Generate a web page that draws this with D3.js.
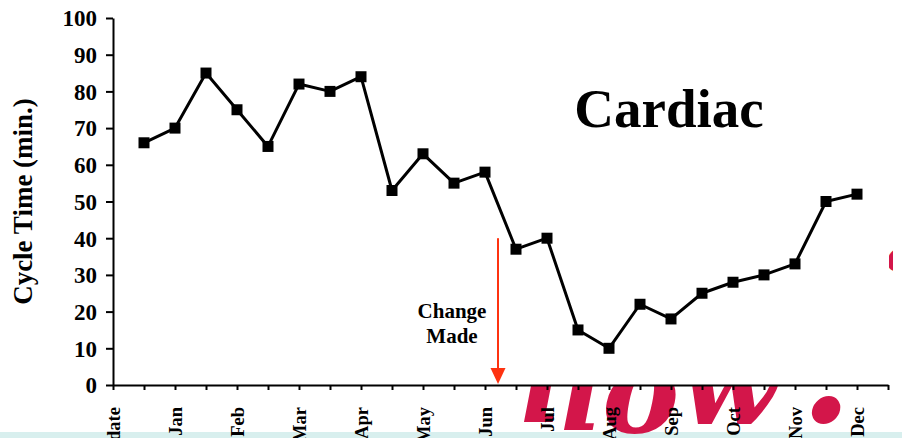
<!DOCTYPE html>
<html><head><meta charset="utf-8">
<script src="https://cdn.jsdelivr.net/npm/d3@7"></script>
<style>
html,body{margin:0;padding:0;background:#fff;overflow:hidden;}
svg{display:block;}
</style></head><body>
<script>
// Category slots along the x axis (a month label on every second slot)
const slots = ["date","","Jan","","Feb","","Mar","","Apr","","May","","Jun","","Jul","","Aug","","Sep","","Oct","","Nov","","Dec",""];
// Cycle time (minutes) per slot; the first and last slot carry no reading
const cycleTime = [null,66,70,85,75,65,82,80,84,53,63,55,58,37,40,15,10,22,18,25,28,30,33,50,52,null];
const yTicks = [0,10,20,30,40,50,60,70,80,90,100];
// Point in the timeline where the process change happened, and arrow start value
const changeSlot = 12.42;
const changeFrom = 40;
const chartTitle = "Cardiac";
const yTitle = "Cycle Time (min.)";
const noteLines = ["Change", "Made"];

const W = 902, H = 438;
const serif = "'Liberation Serif','Times New Roman',Times,serif";

const svg = d3.select("body").append("svg").attr("width", W).attr("height", H);

const x = d3.scaleLinear().domain([0, slots.length - 1]).range([113, 888]);
const y = d3.scaleLinear().domain([0, 100]).range([385, 18]);

// Pale band along the bottom of the slide
svg.append("rect").attr("x", 0).attr("y", 432).attr("width", W).attr("height", H - 432).attr("fill", "#d8efee");

// Slide artwork behind the chart: large crimson lettering
svg.append("defs").append("clipPath").attr("id", "edgeClip")
  .append("rect").attr("x", 886).attr("y", 200).attr("width", 7).attr("height", 100);
const deco = svg.append("g").attr("fill", "#d3164a")
  .style("font-family", "'DejaVu Serif',serif").style("font-weight", "bold").style("font-style", "italic");
deco.append("text").attr("font-size", 116)
  .selectAll("tspan").data([
    {c: "l", x: 520, y: 422},
    {c: "l", x: 560, y: 430},
    {c: "o", x: 602, y: 432},
    {c: "w", x: 680, y: 424},
  ]).join("tspan").attr("x", d => d.x).attr("y", d => d.y).text(d => d.c);
deco.append("text").attr("font-size", 150).attr("x", 800).attr("y", 422).text(".");
deco.append("text").attr("clip-path", "url(#edgeClip)").attr("font-size", 44)
  .attr("x", 886).attr("y", 271).text("o");

// White chart panel that hides the artwork above the axis
svg.append("rect").attr("x", 0).attr("y", 0).attr("width", 889).attr("height", y(0)).attr("fill", "#fff");

// Y axis
const yAxis = svg.append("g").attr("transform", `translate(${x(0)},0)`)
  .call(d3.axisLeft(y).tickValues(yTicks).tickSize(7).tickSizeOuter(0).tickPadding(9));
yAxis.selectAll("text").style("font-family", serif).style("font-weight", "bold")
  .style("font-size", "23px").attr("fill", "#000").attr("dy", "0.34em");

// X axis
const xAxis = svg.append("g").attr("transform", `translate(0,${y(0)})`)
  .call(d3.axisBottom(x).tickValues(d3.range(slots.length)).tickFormat(i => slots[i])
    .tickSize(5).tickSizeOuter(0));
xAxis.selectAll("text")
  .style("font-family", serif).style("font-weight", "bold").style("font-size", "18.5px")
  .attr("fill", "#000")
  .attr("transform", "rotate(-90)")
  .attr("text-anchor", "end")
  .attr("x", -22).attr("y", 0).attr("dy", "0.35em");

svg.selectAll(".domain, .tick line").attr("stroke", "#000").attr("stroke-width", 2);

// Y axis title
svg.append("text")
  .attr("transform", `translate(32,${(y(0) + y(100)) / 2}) rotate(-90)`)
  .attr("text-anchor", "middle")
  .style("font-family", serif).style("font-weight", "bold").style("font-size", "27px")
  .text(yTitle);

// Series line and square markers
const pts = cycleTime.map((v, i) => ({i, v})).filter(d => d.v !== null);
svg.append("path").datum(pts)
  .attr("fill", "none").attr("stroke", "#000").attr("stroke-width", 3).attr("stroke-linejoin", "round")
  .attr("d", d3.line().x(d => x(d.i)).y(d => y(d.v)));
svg.append("g").selectAll("path").data(pts).join("path")
  .attr("transform", d => `translate(${x(d.i)},${y(d.v)})`)
  .attr("d", d3.symbol(d3.symbolSquare, 121))
  .attr("fill", "#000");

// Chart title
svg.append("text").attr("x", 669).attr("y", 127).attr("text-anchor", "middle")
  .style("font-family", serif).style("font-weight", "bold").style("font-size", "55px")
  .text(chartTitle);

// Change annotation with arrow
const ax = x(changeSlot);
svg.append("line").attr("x1", ax).attr("x2", ax).attr("y1", y(changeFrom)).attr("y2", y(0) - 16)
  .attr("stroke", "#fe3210").attr("stroke-width", 2);
svg.append("path")
  .attr("d", `M${ax - 7.5},${y(0) - 17}L${ax + 7.5},${y(0) - 17}L${ax},${y(0) - 1}Z`)
  .attr("fill", "#fe3210");
svg.append("text").attr("text-anchor", "middle")
  .style("font-family", serif).style("font-weight", "bold").style("font-size", "21px")
  .selectAll("tspan").data(noteLines).join("tspan")
  .attr("x", 452).attr("y", (d, k) => 318 + k * 25).text(d => d);
</script>
</body></html>
